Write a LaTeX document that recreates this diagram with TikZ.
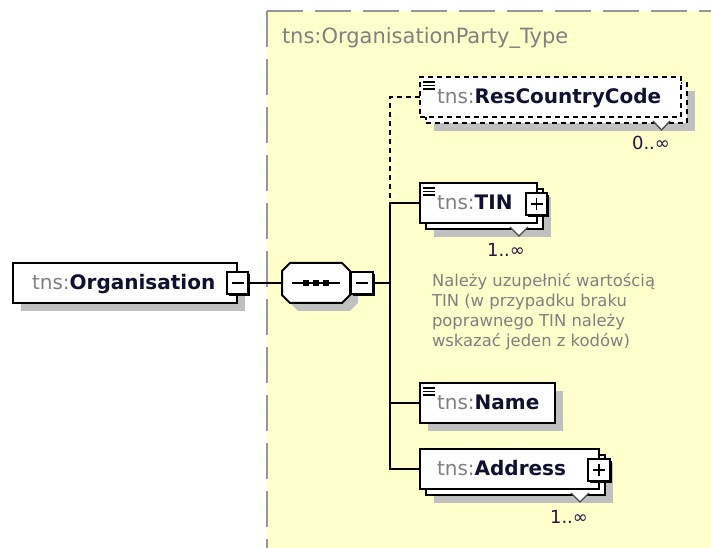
\documentclass[tikz,border=0pt]{standalone}
\usepackage{fontspec}
\setmainfont{DejaVu Sans}
\usetikzlibrary{shadows}

\definecolor{paneyellow}{RGB}{255,255,204}
\definecolor{panegray}{RGB}{150,150,150}
\definecolor{shadegray}{RGB}{192,192,192}
\definecolor{prefixgray}{RGB}{128,128,128}
\definecolor{namenavy}{RGB}{16,16,48}
\definecolor{multplum}{RGB}{48,16,64}

\newcommand{\xsname}[1]{{\color{prefixgray}tns:}\textbf{#1}}

\tikzset{
  boxsize/.style 2 args={minimum width=#1*0.75pt, minimum height=#2*0.75pt},
  castshadow/.style={drop shadow={shadow xshift=6pt, shadow yshift=-6pt, fill=shadegray, opacity=1}},
  elembox/.style={draw=black, fill=white, line width=1.5pt},
  optbox/.style={elembox, dash pattern=on 3.75pt off 3pt},
  togglebox/.style={draw=black, fill=white, line width=1.2pt,
    drop shadow={shadow xshift=1.5pt, shadow yshift=-1.5pt, fill=black, opacity=1}},
  seqline/.style={draw=black, fill=white, line width=1.5pt},
  conn/.style={draw=black, line width=1.5pt},
  optconn/.style={conn, dash pattern=on 3.75pt off 3pt},
  lbl/.style={font=\fontsize{15pt}{18pt}\selectfont, text=namenavy},
  mult/.style={font=\fontsize{13.5pt}{16pt}\selectfont, text=multplum},
  note/.style={font=\fontsize{12.3pt}{15pt}\selectfont, text=prefixgray},
  chev/.style={draw=black!70, fill=white, line width=1pt},
  iconline/.style={draw=black, line width=1.2pt},
}

\begin{document}
\begin{tikzpicture}[x=0.75pt, y=-0.75pt, every node/.style={inner sep=0pt, outer sep=0pt}]
    \useasboundingbox (0,0) rectangle (711,548);

    % complex type pane
    \fill[paneyellow] (267,11) rectangle (711,548);
    \draw[panegray, line width=1.5pt, dash pattern=on 27pt off 9pt] (267,11) -- (711,11);
    \draw[panegray, line width=1.5pt, dash pattern=on 27pt off 9pt] (267,11) -- (267,548);
    \node[anchor=base west, font=\fontsize{15.75pt}{18pt}\selectfont, text=prefixgray] (ptitle) at (282,44) {tns:OrganisationParty\_Type};

    % root element and sequence
    \node[elembox, castshadow, boxsize={224}{40}] (org) at (125,283) {};
    \node[lbl, anchor=base west] (orglbl) at (32,290) {\xsname{Organisation}};
    \node[togglebox, boxsize={21}{22}] (orgminus) at (237.5,283) {};
    \draw[line width=1.2pt] ([xshift=-4.5pt]orgminus.center) -- ([xshift=4.5pt]orgminus.center);

    \node[boxsize={68}{40}] (seq) at (316,283) {};
    \draw[seqline, castshadow] ([xshift=6pt]seq.north west) -- ([xshift=-6pt]seq.north east)
        -- ([yshift=-6pt]seq.north east) -- ([yshift=6pt]seq.south east)
        -- ([xshift=-6pt]seq.south east) -- ([xshift=6pt]seq.south west)
        -- ([yshift=6pt]seq.south west) -- ([yshift=-6pt]seq.north west) -- cycle;
    \draw[conn] ([xshift=-18pt]seq.center) -- ([xshift=18pt]seq.center);
    \foreach \dx in {-7.5,0,7.5}
        \fill ([xshift=\dx pt]seq.center) +(-2.25pt,-2.25pt) rectangle +(2.25pt,2.25pt);
    \node[togglebox, boxsize={22}{22}] (seqminus) at (362,283) {};
    \draw[line width=1.2pt] ([xshift=-4.5pt]seqminus.center) -- ([xshift=4.5pt]seqminus.center);

    % child elements
    \node[optbox, castshadow, boxsize={261}{40}] (rccback) at (556.5,103) {};
    \node[optbox, boxsize={261}{40}] (rcc) at (550.5,97) {};
    \draw[chev] (653,121) -- (661.5,130) -- (670,121);
    \node[lbl, anchor=base west] (rcclbl) at (437,104) {\xsname{ResCountryCode}};
    \node[mult, anchor=base] (rccmult) at (651,149.5) {0..∞};

    \node[elembox, castshadow, boxsize={117}{40}] (tinback) at (484.5,209) {};
    \node[elembox, boxsize={117}{40}] (tin) at (478.5,203) {};
    \draw[chev] (510,227) -- (519,236) -- (528,227);
    \node[lbl, anchor=base west] (tinlbl) at (437,210) {\xsname{TIN}};
    \node[togglebox, boxsize={21}{22}] (tinplus) at (536.5,204) {};
    \draw[line width=1.2pt] ([xshift=-4.5pt]tinplus.center) -- ([xshift=4.5pt]tinplus.center)
        ([yshift=-4.5pt]tinplus.center) -- ([yshift=4.5pt]tinplus.center);
    \node[mult, anchor=base] (tinmult) at (506,256.5) {1..∞};

    \foreach \ln [count=\i] in {Należy uzupełnić wartością, TIN (w przypadku braku, poprawnego TIN należy, wskazać jeden z kodów)}
        \node[note, anchor=base west] (note\i) at (432,267+20*\i) {\ln};

    \node[elembox, castshadow, boxsize={135}{40}] (name) at (487.5,403) {};
    \node[lbl, anchor=base west] (namelbl) at (437,410) {\xsname{Name}};

    \node[elembox, castshadow, boxsize={179}{40}] (addrback) at (515.5,475) {};
    \node[elembox, boxsize={179}{40}] (addr) at (509.5,469) {};
    \draw[chev] (571,493) -- (580,502) -- (589,493);
    \node[lbl, anchor=base west] (addrlbl) at (437,476) {\xsname{Address}};
    \node[togglebox, boxsize={22}{22}] (addrplus) at (599,470) {};
    \draw[line width=1.2pt] ([xshift=-4.5pt]addrplus.center) -- ([xshift=4.5pt]addrplus.center)
        ([yshift=-4.5pt]addrplus.center) -- ([yshift=4.5pt]addrplus.center);
    \node[mult, anchor=base] (addrmult) at (569,523.5) {1..∞};

    % simple content marks
    \foreach \n in {rcc,tin,name}
        \foreach \k in {0,1,2}
            \draw[iconline] ([xshift=2.25pt, yshift={-(3.75+2.6*\k)*1pt}]\n.north west) -- ++(9pt,0);

    % connectors
    \coordinate (bus) at (390,283);
    \coordinate (fork) at (390,203);
    \draw[conn] (orgminus.east) -- (seq.west);
    \draw[conn] (seqminus.east) -- (bus);
    \draw[optconn] (rcc.west) -| (fork);
    \draw[conn] (tin.west) -| (bus);
    \draw[conn] (name.west) -| (bus);
    \draw[conn] (addr.west) -| (bus);
\end{tikzpicture}
\end{document}
